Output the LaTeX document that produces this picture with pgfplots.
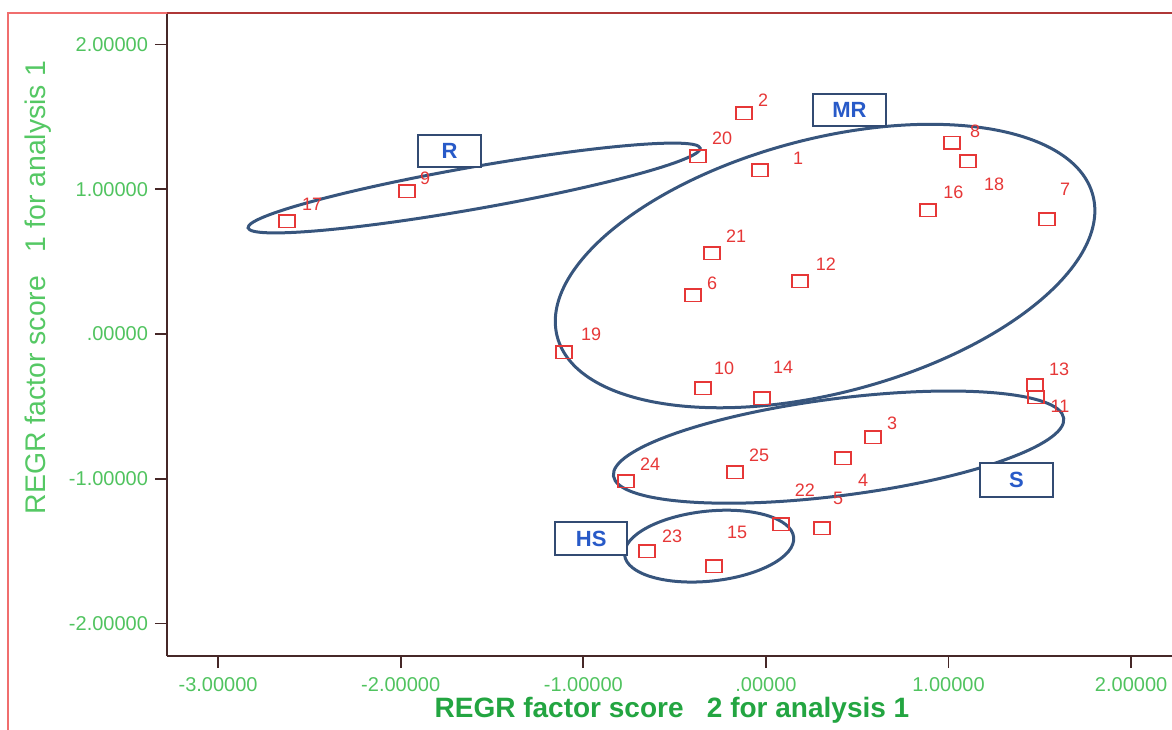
\documentclass[border=0pt]{standalone}
\usepackage{pgfplots}
\pgfplotsset{compat=1.18}
\usepackage{pgfplotstable}
\usepackage{fontspec}
\setmainfont{Liberation Sans}
\usetikzlibrary{shapes.geometric}
\definecolor{markred}{RGB}{230,55,55}
\definecolor{tickgreen}{RGB}{80,195,95}
\definecolor{labgreen}{RGB}{35,165,65}
\definecolor{ylabgreen}{RGB}{85,200,100}
\definecolor{ellcol}{RGB}{55,85,125}
\definecolor{boxcol}{RGB}{50,75,115}
\definecolor{boxtext}{RGB}{40,90,200}
\definecolor{framered}{RGB}{240,110,110}
\definecolor{axisdark}{RGB}{70,40,40}
\definecolor{topred}{RGB}{175,55,55}

\pgfplotstableread{
x y lab
-2.622 0.781 17
-1.965 0.988 9
-0.371 1.230 20
-0.119 1.527 2
-0.032 1.133 1
1.020 1.320 8
1.107 1.195 18
0.888 0.857 16
1.540 0.794 7
-0.295 0.560 21
-0.399 0.269 6
0.187 0.366 12
-1.105 -0.124 19
-0.344 -0.373 10
-0.021 -0.442 14
1.474 -0.352 13
1.479 -0.435 11
0.587 -0.712 3
0.423 -0.857 4
-0.169 -0.953 25
-0.766 -1.016 24
0.083 -1.313 22
0.308 -1.340 5
-0.651 -1.499 23
-0.284 -1.603 15
}\pts

\pgfplotstableread{
x y lab
-2.485 0.898 17
-1.866 1.078 9
-0.240 1.354 20
-0.015 1.617 2
0.176 1.216 1
1.146 1.402 8
1.250 1.036 18
1.026 0.981 16
1.638 1.002 7
-0.163 0.677 21
-0.295 0.352 6
0.329 0.484 12
-0.957 0.000 19
-0.229 -0.235 10
0.094 -0.228 14
1.606 -0.242 13
1.611 -0.497 11
0.691 -0.615 3
0.532 -1.009 4
-0.037 -0.836 25
-0.634 -0.898 24
0.214 -1.078 22
0.395 -1.133 5
-0.514 -1.396 23
-0.158 -1.368 15
}\labs

\begin{document}
\begin{tikzpicture}
\begin{axis}[
  name=ax,
  scale only axis,
  width=502.5pt, height=321.5pt,
  xmin=-3.280, xmax=2.224,
  ymin=-2.224, ymax=2.218,
  axis x line*=bottom,
  axis y line*=left,
  axis line style={axisdark, line width=1.2pt},
  xtick={-3,-2,-1,0,1,2},
  xticklabels={-3.00000,-2.00000,-1.00000,.00000,1.00000,2.00000},
  ytick={-2,-1,0,1,2},
  yticklabels={-2.00000,-1.00000,.00000,1.00000,2.00000},
  tick align=outside,
  major tick length=6pt,
  tick style={axisdark, line width=0.9pt},
  ticklabel style={font=\fontsize{10}{12}\selectfont, text=tickgreen},
  xticklabel style={yshift=-1pt},
  xlabel={REGR factor score\ \ \ 2 for analysis 1},
  ylabel={REGR factor score\ \ \ 1 for analysis 1},
  xlabel style={font=\fontsize{14}{16}\selectfont\bfseries, text=labgreen,
    at={(axis description cs:0.5025,-0.084)}, anchor=center},
  ylabel style={font=\fontsize{14.2}{16}\selectfont, text=ylabgreen,
    at={(axis description cs:-0.1284,0.573)}, anchor=center},
  clip=false,
]
% group ellipses
\node[ellipse, draw=ellcol, line width=1.5pt, inner sep=0pt, minimum width=229.5pt, minimum height=21pt, rotate=10] at (axis cs:-1.598,1.009) {};
\node[ellipse, draw=ellcol, line width=1.5pt, inner sep=0pt, minimum width=277pt, minimum height=127pt, rotate=14.8] at (axis cs:0.324,0.470) {};
\node[ellipse, draw=ellcol, line width=1.5pt, inner sep=0pt, minimum width=227pt, minimum height=48.5pt, rotate=7.3] at (axis cs:0.398,-0.781) {};
\node[ellipse, draw=ellcol, line width=1.5pt, inner sep=0pt, minimum width=85pt, minimum height=35pt, rotate=6] at (axis cs:-0.311,-1.465) {};

\addplot[only marks, mark=square, mark size=4pt,
  mark options={markred, line width=0.9pt, yscale=0.8}] table[x=x,y=y] {\pts};

\addplot[only marks, mark=none, nodes near coords, point meta=explicit symbolic,
  every node near coord/.append style={anchor=center, inner sep=0pt,
    font=\fontsize{9}{10}\selectfont, text=markred}]
  table[x=x,y=y,meta=lab] {\labs};

% group boxes
\node[draw=boxcol, line width=1pt, fill=white, minimum width=31.5pt, minimum height=16pt, inner sep=0pt,
  font=\fontsize{11}{12}\selectfont\bfseries, text=boxtext] at (axis cs:-1.733,1.264) {R};
\node[draw=boxcol, line width=1pt, fill=white, minimum width=36.5pt, minimum height=16pt, inner sep=0pt,
  font=\fontsize{11}{12}\selectfont\bfseries, text=boxtext] at (axis cs:0.457,1.548) {MR};
\node[draw=boxcol, line width=1pt, fill=white, minimum width=36.5pt, minimum height=17pt, inner sep=0pt,
  font=\fontsize{11}{12}\selectfont\bfseries, text=boxtext] at (axis cs:1.372,-1.009) {S};
\node[draw=boxcol, line width=1pt, fill=white, minimum width=36pt, minimum height=16.5pt, inner sep=0pt,
  font=\fontsize{11}{12}\selectfont\bfseries, text=boxtext] at (axis cs:-0.957,-1.413) {HS};
\end{axis}
% outer frame and top line
\draw[framered, line width=1.2pt] ([xshift=-79.5pt,yshift=-40pt]ax.south west) -- ([xshift=-79.5pt]ax.north west) -- (ax.north west);
\draw[topred, line width=1.4pt] (ax.north west) -- ([xshift=5pt]ax.north east);
\pgfresetboundingbox
\path[use as bounding box] ([xshift=-83.5pt,yshift=-36.5pt]ax.south west) rectangle ([yshift=6.5pt]ax.north east);
\end{tikzpicture}
\end{document}
